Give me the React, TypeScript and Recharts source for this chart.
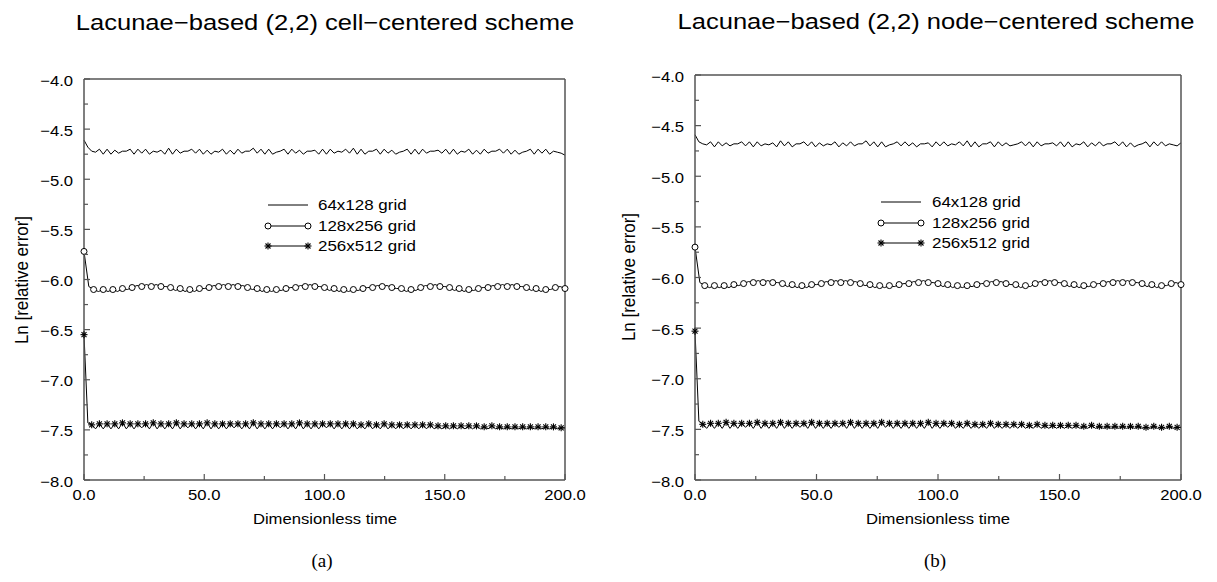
import { Legend, Line, LineChart, XAxis, YAxis } from "recharts";

const FONT = '"Liberation Sans", Arial, Helvetica, sans-serif';
const SERIF = '"Liberation Serif", "Times New Roman", serif';
const FRAME = "#555";

const xTicks = [0, 25, 50, 75, 100, 125, 150, 175, 200];
const yTicks = [
  -8, -7.75, -7.5, -7.25, -7, -6.75, -6.5, -6.25, -6, -5.75, -5.5, -5.25, -5,
  -4.75, -4.5, -4.25, -4,
];
const seriesNames = ["64x128 grid", "128x256 grid", "256x512 grid"];

// sample spacing in dimensionless time for each run
const stepCoarse = 1.6;
const stepMid = 2;
const stepFine = 1.6;

// (a) cell-centered
const coarseCell = [
  -4.61, -4.68, -4.72, -4.73,
  -4.7, -4.75, -4.7, -4.75, -4.71, -4.74, -4.72, -4.72,
  -4.7, -4.75, -4.7, -4.74, -4.7, -4.75, -4.72, -4.73,
  -4.71, -4.75, -4.69, -4.75, -4.7, -4.74, -4.72, -4.72,
  -4.7, -4.74, -4.7, -4.75, -4.71, -4.75, -4.72, -4.73,
  -4.7, -4.75, -4.71, -4.75, -4.7, -4.74, -4.72, -4.72,
  -4.69, -4.74, -4.7, -4.75, -4.7, -4.75, -4.73, -4.72,
  -4.7, -4.75, -4.7, -4.74, -4.71, -4.75, -4.72, -4.72,
  -4.71, -4.75, -4.7, -4.75, -4.7, -4.74, -4.72, -4.73,
  -4.7, -4.74, -4.69, -4.75, -4.7, -4.75, -4.72, -4.72,
  -4.7, -4.75, -4.7, -4.74, -4.71, -4.75, -4.73, -4.72,
  -4.7, -4.75, -4.7, -4.75, -4.7, -4.74, -4.72, -4.72,
  -4.71, -4.74, -4.7, -4.75, -4.7, -4.75, -4.72, -4.73,
  -4.7, -4.75, -4.71, -4.75, -4.7, -4.74, -4.72, -4.72,
  -4.7, -4.74, -4.7, -4.75, -4.71, -4.75, -4.73, -4.72,
  -4.7, -4.75, -4.7, -4.74, -4.7, -4.75, -4.72, -4.73,
  -4.74, -4.76,
];
const midCell = [
  -5.72, -6.07,
  -6.1, -6.12, -6.1, -6.12, -6.1, -6.12, -6.09, -6.1,
  -6.08, -6.06, -6.07, -6.05, -6.07, -6.05, -6.07, -6.07,
  -6.08, -6.11, -6.09, -6.12, -6.1, -6.12, -6.09, -6.09,
  -6.08, -6.06, -6.07, -6.05, -6.07, -6.05, -6.07, -6.06,
  -6.08, -6.1, -6.09, -6.12, -6.1, -6.12, -6.1, -6.11,
  -6.09, -6.08, -6.08, -6.06, -6.07, -6.05, -6.07, -6.07,
  -6.08, -6.11, -6.09, -6.12, -6.1, -6.12, -6.1, -6.11,
  -6.09, -6.08, -6.08, -6.06, -6.07, -6.06, -6.08, -6.09,
  -6.09, -6.12, -6.1, -6.11, -6.08, -6.06, -6.07, -6.05,
  -6.07, -6.07, -6.08, -6.11, -6.09, -6.12, -6.1, -6.11,
  -6.09, -6.08, -6.08, -6.06, -6.07, -6.05, -6.07, -6.05,
  -6.07, -6.07, -6.08, -6.11, -6.09, -6.12, -6.1, -6.1,
  -6.08, -6.07, -6.09,
];
const fineCell = [
  -6.55, -7.43,
  -7.45, -7.49, -7.44, -7.49, -7.44, -7.49, -7.44, -7.49, -7.43, -7.49,
  -7.44, -7.49, -7.44, -7.48, -7.44, -7.49, -7.43, -7.49, -7.44, -7.49,
  -7.44, -7.49, -7.43, -7.49, -7.44, -7.48, -7.44, -7.49, -7.44, -7.49,
  -7.43, -7.49, -7.44, -7.49, -7.44, -7.49, -7.44, -7.48, -7.44, -7.49,
  -7.44, -7.49, -7.43, -7.49, -7.44, -7.49, -7.44, -7.49, -7.44, -7.48,
  -7.44, -7.49, -7.44, -7.49, -7.43, -7.49, -7.44, -7.49, -7.44, -7.49,
  -7.44, -7.48, -7.44, -7.49, -7.44, -7.49, -7.44, -7.49, -7.44, -7.49,
  -7.45, -7.49, -7.44, -7.49, -7.45, -7.49, -7.44, -7.49, -7.45, -7.49,
  -7.45, -7.49, -7.45, -7.49, -7.45, -7.49, -7.45, -7.49, -7.45, -7.49,
  -7.46, -7.49, -7.46, -7.49, -7.46, -7.49, -7.46, -7.49, -7.46, -7.49,
  -7.46, -7.49, -7.47, -7.49, -7.46, -7.49, -7.47, -7.49, -7.47, -7.49,
  -7.47, -7.49, -7.47, -7.49, -7.47, -7.49, -7.47, -7.49, -7.47, -7.49,
  -7.47, -7.49, -7.48, -7.48,
];

// (b) node-centered
const coarseNode = [
  -4.59, -4.66, -4.68, -4.69,
  -4.66, -4.71, -4.66, -4.7, -4.67, -4.7, -4.68, -4.68,
  -4.66, -4.7, -4.66, -4.71, -4.66, -4.7, -4.68, -4.69,
  -4.67, -4.71, -4.65, -4.7, -4.66, -4.71, -4.68, -4.68,
  -4.66, -4.7, -4.66, -4.71, -4.67, -4.7, -4.68, -4.69,
  -4.66, -4.71, -4.67, -4.7, -4.66, -4.7, -4.68, -4.68,
  -4.65, -4.7, -4.66, -4.71, -4.66, -4.71, -4.69, -4.68,
  -4.66, -4.7, -4.66, -4.7, -4.67, -4.71, -4.68, -4.68,
  -4.67, -4.71, -4.66, -4.7, -4.66, -4.7, -4.68, -4.69,
  -4.66, -4.7, -4.65, -4.71, -4.66, -4.71, -4.68, -4.68,
  -4.66, -4.71, -4.66, -4.7, -4.67, -4.7, -4.69, -4.68,
  -4.66, -4.7, -4.66, -4.71, -4.66, -4.7, -4.68, -4.68,
  -4.67, -4.7, -4.66, -4.71, -4.66, -4.71, -4.68, -4.69,
  -4.66, -4.71, -4.67, -4.7, -4.66, -4.7, -4.68, -4.68,
  -4.66, -4.7, -4.66, -4.71, -4.67, -4.71, -4.69, -4.68,
  -4.66, -4.71, -4.66, -4.7, -4.66, -4.7, -4.68, -4.69,
  -4.7, -4.67,
];
const midNode = [
  -5.7, -6.05,
  -6.08, -6.1, -6.08, -6.1, -6.08, -6.1, -6.07, -6.08,
  -6.06, -6.04, -6.05, -6.03, -6.05, -6.03, -6.05, -6.05,
  -6.06, -6.09, -6.07, -6.1, -6.08, -6.1, -6.07, -6.07,
  -6.06, -6.04, -6.05, -6.03, -6.05, -6.03, -6.05, -6.04,
  -6.06, -6.08, -6.07, -6.1, -6.08, -6.1, -6.08, -6.09,
  -6.07, -6.06, -6.06, -6.04, -6.05, -6.03, -6.05, -6.05,
  -6.06, -6.09, -6.07, -6.1, -6.08, -6.1, -6.08, -6.09,
  -6.07, -6.06, -6.06, -6.04, -6.05, -6.04, -6.06, -6.07,
  -6.07, -6.1, -6.08, -6.09, -6.06, -6.04, -6.05, -6.03,
  -6.05, -6.05, -6.06, -6.09, -6.07, -6.1, -6.08, -6.09,
  -6.07, -6.06, -6.06, -6.04, -6.05, -6.03, -6.05, -6.03,
  -6.05, -6.05, -6.06, -6.09, -6.07, -6.1, -6.08, -6.08,
  -6.06, -6.05, -6.07,
];
const fineNode = [
  -6.53, -7.42,
  -7.45, -7.49, -7.44, -7.49, -7.44, -7.49, -7.43, -7.49, -7.44, -7.49,
  -7.44, -7.48, -7.44, -7.49, -7.43, -7.49, -7.44, -7.49, -7.44, -7.49,
  -7.43, -7.49, -7.44, -7.49, -7.44, -7.48, -7.44, -7.49, -7.43, -7.49,
  -7.44, -7.49, -7.44, -7.49, -7.44, -7.48, -7.44, -7.49, -7.43, -7.49,
  -7.44, -7.49, -7.44, -7.49, -7.44, -7.49, -7.43, -7.48, -7.44, -7.49,
  -7.44, -7.49, -7.44, -7.49, -7.44, -7.49, -7.44, -7.49, -7.43, -7.49,
  -7.44, -7.49, -7.44, -7.48, -7.44, -7.49, -7.45, -7.49, -7.44, -7.49,
  -7.45, -7.49, -7.45, -7.49, -7.44, -7.49, -7.45, -7.49, -7.45, -7.49,
  -7.45, -7.49, -7.45, -7.49, -7.46, -7.49, -7.45, -7.49, -7.46, -7.49,
  -7.46, -7.49, -7.46, -7.49, -7.46, -7.49, -7.46, -7.49, -7.47, -7.49,
  -7.46, -7.49, -7.47, -7.49, -7.47, -7.49, -7.47, -7.49, -7.47, -7.49,
  -7.47, -7.49, -7.47, -7.49, -7.48, -7.49, -7.47, -7.49, -7.48, -7.49,
  -7.47, -7.49, -7.48, -7.48,
];

const toPoints = (values: number[], step: number) =>
  values.map((v, i) => ({ t: Math.round(i * step * 100) / 100, v }));

const isMajorX = (v: number) => v % 50 === 0;
const isMajorY = (v: number) => Math.abs(v * 2 - Math.round(v * 2)) < 1e-6;
const fmtY = (v: number) => (v < 0 ? "\u2212" : "") + Math.abs(v).toFixed(1);

const tickText = {
  fontSize: 15,
  fontFamily: FONT,
  fill: "#000",
};

const BottomTick = (props: any) => {
  const { x, y, payload } = props;
  const major = isMajorX(payload.value);
  return (
    <g>
      <line x1={x} x2={x} y1={y} y2={y - (major ? 6 : 4)} stroke={FRAME} strokeWidth={1.2} />
      {major ? (
        <text transform={`translate(${x},${y + 20}) scale(1.11,1)`} textAnchor="middle" {...tickText}>
          {payload.value.toFixed(1)}
        </text>
      ) : null}
    </g>
  );
};

const TopTick = (props: any) => {
  const { x, y, payload } = props;
  const major = isMajorX(payload.value);
  return <line x1={x} x2={x} y1={y} y2={y + (major ? 6 : 4)} stroke={FRAME} strokeWidth={1.2} />;
};

const LeftTick = (props: any) => {
  const { x, y, payload } = props;
  const major = isMajorY(payload.value);
  return (
    <g>
      <line x1={x} x2={x + (major ? 6 : 4)} y1={y} y2={y} stroke={FRAME} strokeWidth={1.2} />
      {major ? (
        <text transform={`translate(${x - 11},${y + 6.5}) scale(1.11,1)`} textAnchor="end" {...tickText}>
          {fmtY(payload.value)}
        </text>
      ) : null}
    </g>
  );
};

const RightTick = (props: any) => {
  const { x, y, payload } = props;
  const major = isMajorY(payload.value);
  return <line x1={x} x2={x - (major ? 6 : 5)} y1={y} y2={y} stroke={FRAME} strokeWidth={1.2} />;
};

const Star = ({ cx, cy }: { cx: number; cy: number }) => (
  <g stroke="#000" strokeWidth={1.1}>
    <line x1={cx - 3.5} x2={cx + 3.5} y1={cy} y2={cy} />
    <line x1={cx} x2={cx} y1={cy - 3.5} y2={cy + 3.5} />
    <line x1={cx - 2.5} x2={cx + 2.5} y1={cy - 2.5} y2={cy + 2.5} />
    <line x1={cx - 2.5} x2={cx + 2.5} y1={cy + 2.5} y2={cy - 2.5} />
  </g>
);

const renderCircle = (props: any) => {
  const { cx, cy, index } = props;
  if (index % 2 !== 0) return <g key={`c${index}`} />;
  return <circle key={`c${index}`} cx={cx} cy={cy} r={3} fill="#fff" stroke="#000" strokeWidth={1} />;
};

const renderStar = (props: any) => {
  const { cx, cy, index } = props;
  if (index % 2 !== 0) return <g key={`s${index}`} />;
  return (
    <g key={`s${index}`}>
      <Star cx={cx} cy={cy} />
    </g>
  );
};

const makeLegend = (swatchWidth: number) => () => (
  <div style={{ fontFamily: FONT, fontSize: 15, color: "#000" }}>
    {seriesNames.map((name, i) => (
      <div key={name} style={{ display: "flex", alignItems: "center", height: 20.5 }}>
        <svg width={swatchWidth} height={20} style={{ flex: "none", display: "block" }}>
          <line x1={4} x2={44} y1={10} y2={10} stroke="#000" strokeWidth={1} />
          {i === 1 ? (
            <>
              <circle cx={4} cy={10} r={3} fill="#fff" stroke="#000" />
              <circle cx={44} cy={10} r={3} fill="#fff" stroke="#000" />
            </>
          ) : null}
          {i === 2 ? (
            <>
              <Star cx={4} cy={10} />
              <Star cx={44} cy={10} />
            </>
          ) : null}
        </svg>
        <span
          style={{
            display: "inline-block",
            transform: "scaleX(1.13)",
            transformOrigin: "left center",
            whiteSpace: "nowrap",
            lineHeight: "20px",
          }}
        >
          {name}
        </span>
      </div>
    ))}
  </div>
);

type PanelProps = {
  width: number;
  margin: { top: number; right: number; bottom: number; left: number };
  coarse: number[];
  mid: number[];
  fine: number[];
  legendLeft: number;
  legendTop: number;
  swatchWidth: number;
};

function Panel({ width, margin, coarse, mid, fine, legendLeft, legendTop, swatchWidth }: PanelProps) {
  const axisLine = { stroke: FRAME, strokeWidth: 1.5 };
  const common = {
    tickSize: 0,
    tickMargin: 0,
    tickLine: false,
    interval: 0 as const,
    axisLine,
  };
  return (
    <LineChart width={width} height={582} margin={margin}>
      <XAxis xAxisId="b" dataKey="t" type="number" domain={[0, 200]} ticks={xTicks} height={1} tick={BottomTick} {...common} />
      <XAxis xAxisId="top" orientation="top" dataKey="t" type="number" domain={[0, 200]} ticks={xTicks} height={1} tick={TopTick} {...common} />
      <YAxis yAxisId="l" type="number" domain={[-8, -4]} ticks={yTicks} width={1} tick={LeftTick} {...common} />
      <YAxis yAxisId="r" orientation="right" type="number" domain={[-8, -4]} ticks={yTicks} width={1} tick={RightTick} {...common} />
      <Legend
        layout="horizontal"
        verticalAlign="middle"
        align="center"
        content={makeLegend(swatchWidth)}
        wrapperStyle={{ left: legendLeft, top: legendTop, width: "auto" }}
      />
      <Line xAxisId="b" yAxisId="l" name={seriesNames[0]} data={toPoints(coarse, stepCoarse)} dataKey="v" type="linear" stroke="#000" strokeWidth={1} dot={false} isAnimationActive={false} />
      <Line xAxisId="b" yAxisId="l" name={seriesNames[1]} data={toPoints(mid, stepMid)} dataKey="v" type="linear" stroke="#000" strokeWidth={1} dot={renderCircle} activeDot={false} isAnimationActive={false} />
      <Line xAxisId="b" yAxisId="l" name={seriesNames[2]} data={toPoints(fine, stepFine)} dataKey="v" type="linear" stroke="#000" strokeWidth={1} dot={renderStar} activeDot={false} isAnimationActive={false} />
    </LineChart>
  );
}

export default function App() {
  return (
    <div style={{ position: "absolute", left: 0, top: 0, width: 1217, height: 582, background: "#fff", overflow: "hidden" }}>
      <div style={{ position: "absolute", left: 0, top: 0 }}>
        <Panel
          width={600}
          margin={{ top: 78, right: 34, bottom: 101, left: 83 }}
          coarse={coarseCell}
          mid={midCell}
          fine={fineCell}
          legendLeft={264}
          legendTop={195}
          swatchWidth={54}
        />
      </div>
      <div style={{ position: "absolute", left: 600, top: 0 }}>
        <Panel
          width={617}
          margin={{ top: 74, right: 35, bottom: 101, left: 94 }}
          coarse={coarseNode}
          mid={midNode}
          fine={fineNode}
          legendLeft={277}
          legendTop={192}
          swatchWidth={55}
        />
      </div>
      <svg width={1217} height={582} style={{ position: "absolute", left: 0, top: 0, pointerEvents: "none" }}>
        <g fontFamily={FONT} fill="#000">
          <text transform="translate(325,30) scale(1.2,1)" textAnchor="middle" fontSize={21.3}>
            Lacunae{"\u2212"}based (2,2) cell{"\u2212"}centered scheme
          </text>
          <text transform="translate(936,29) scale(1.2,1)" textAnchor="middle" fontSize={21.3}>
            Lacunae{"\u2212"}based (2,2) node{"\u2212"}centered scheme
          </text>
          <text transform="translate(28,280) rotate(-90) scale(1.06,1.11)" textAnchor="middle" fontSize={16}>
            Ln [relative error]
          </text>
          <text transform="translate(635,277) rotate(-90) scale(1.06,1.11)" textAnchor="middle" fontSize={16}>
            Ln [relative error]
          </text>
          <text transform="translate(325,524) scale(1.11,1)" textAnchor="middle" fontSize={15}>
            Dimensionless time
          </text>
          <text transform="translate(938,524) scale(1.11,1)" textAnchor="middle" fontSize={15}>
            Dimensionless time
          </text>
        </g>
        <g fontFamily={SERIF} fill="#000" fontSize={19}>
          <text x={322} y={567} textAnchor="middle">
            (a)
          </text>
          <text x={935} y={567} textAnchor="middle">
            (b)
          </text>
        </g>
      </svg>
    </div>
  );
}
